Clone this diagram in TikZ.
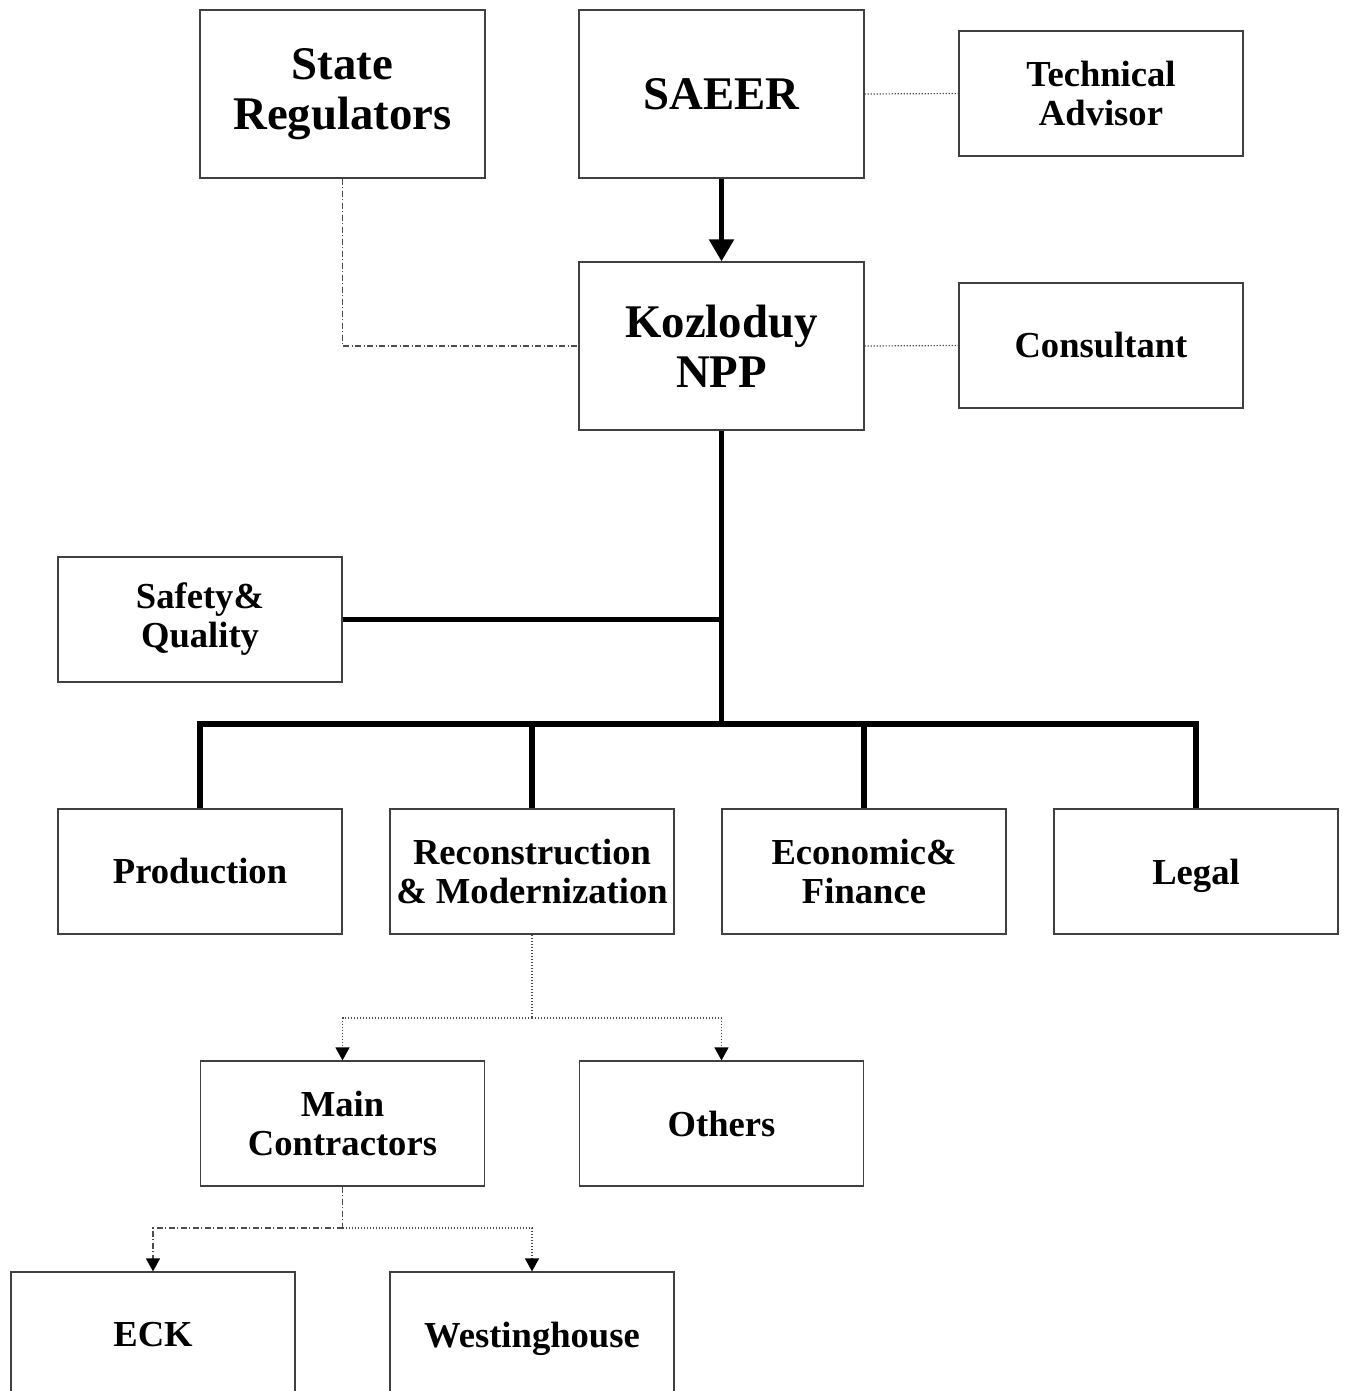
\documentclass[tikz,border=0pt]{standalone}
\usepackage{fontspec}
\setmainfont{Liberation Serif}
\usetikzlibrary{arrows.meta}
\begin{document}
\begin{tikzpicture}[x=0.5pt,y=-0.5pt,
  boxbig/.style={draw=black!75,line width=0.6pt,minimum width=142.5pt,minimum height=84pt,inner sep=0pt,align=center,font=\fontsize{23.4}{25}\selectfont\bfseries},
  boxsmall/.style={draw=black!75,line width=0.6pt,minimum width=142pt,minimum height=62.5pt,inner sep=0pt,align=center,font=\fontsize{18.3}{19.5}\selectfont\bfseries},
  thickline/.style={line width=2.6pt,black},
  dotline/.style={line width=0.6pt,black!70,dash pattern=on 0.6pt off 0.9pt},
  dashdotline/.style={line width=0.6pt,black!70,dash pattern=on 3pt off 1.2pt on 0.6pt off 1.2pt},
  smallarrow/.style={-{Triangle[width=7pt,length=6.5pt,color=black]}},
]
\useasboundingbox (0,0) rectangle (1348,1391);
\node[boxbig] (sr) at (342.5,94) {State\\Regulators};
\node[boxbig] (saeer) at (721.5,94) {SAEER};
\node[boxsmall] (ta) at (1101,93.5) {Technical\\Advisor};
\node[boxbig] (koz) at (721.5,346) {Kozloduy\\NPP};
\node[boxsmall] (cons) at (1101,345.5) {Consultant};
\node[boxsmall] (saf) at (200,619.5) {Safety\&\\Quality};
\node[boxsmall] (prod) at (200,871.5) {Production};
\node[boxsmall] (rec) at (532,871.5) {Reconstruction\\\& Modernization};
\node[boxsmall] (eco) at (864,871.5) {Economic\&\\Finance};
\node[boxsmall,text depth=0pt] (legal) at (1196,871.5) {Legal};
\node[boxsmall] (mc) at (342.5,1123.5) {Main\\Contractors};
\node[boxsmall] (oth) at (721.5,1123.5) {Others};
\node[boxsmall] (eck) at (153,1334.5) {ECK};
\node[boxsmall,text depth=0pt] (west) at (532,1334.5) {Westinghouse};
\coordinate (bus) at (721.5,724);
\coordinate (recsplit) at (532,1018);
\coordinate (mcsplit) at (342.5,1228);
% top connectors
\draw[thickline,-{Triangle[width=12pt,length=11pt]}] (saeer.south) -- (koz.north);
\draw[dotline] (saeer.east) -- (ta.west);
\draw[dotline] (koz.east) -- (cons.west);
\draw[dashdotline] (sr.south) |- (koz.west);
% trunk
\draw[thickline] (koz.south) -- (bus);
\draw[thickline] (saf.east) -- (saf.east -| koz.south);
\draw[thickline] (prod.north) |- (bus);
\draw[thickline] (legal.north) |- (bus);
\draw[thickline] (rec.north) -- (rec.north |- bus);
\draw[thickline] (eco.north) -- (eco.north |- bus);
% reconstruction branch
\draw[dotline] (rec.south) -- (recsplit);
\draw[dotline,smallarrow] (recsplit) -| (mc.north);
\draw[dotline,smallarrow] (recsplit) -| (oth.north);
% main contractors branch
\draw[dashdotline] (mc.south) -- (mcsplit);
\draw[dashdotline,smallarrow] (mcsplit) -| (eck.north);
\draw[dotline,smallarrow] (mcsplit) -| (west.north);
\end{tikzpicture}
\end{document}
